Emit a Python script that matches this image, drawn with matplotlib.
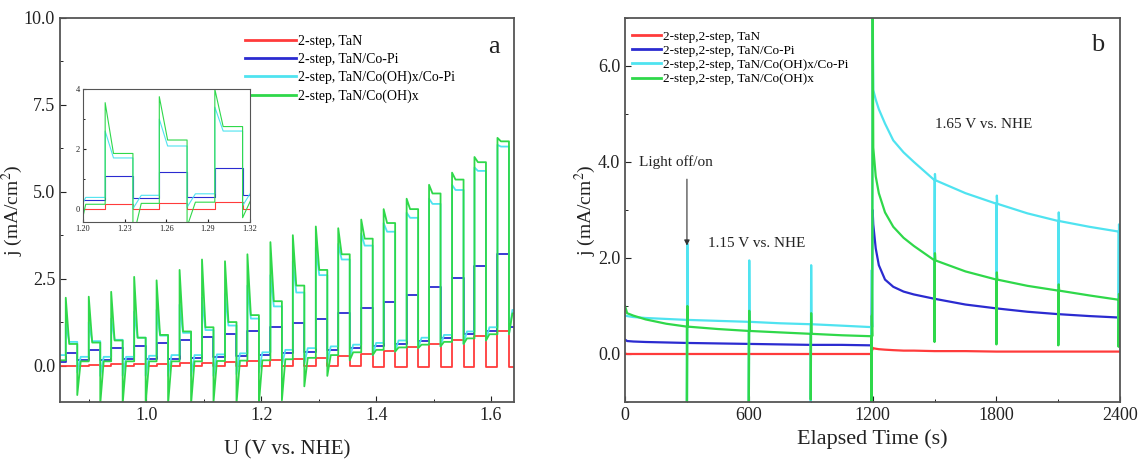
import matplotlib
matplotlib.use("Agg")
import matplotlib.pyplot as plt
from matplotlib.ticker import MultipleLocator, FormatStrFormatter

plt.rcParams['font.family'] = ['Liberation Serif', 'DejaVu Serif']
plt.rcParams['mathtext.fontset'] = 'stix'

# ---------------- panel a: chopped-light LSV (one value per light cycle) ----------------
u_start, u_end = 0.85, 1.64
chop_on = [0.860, 0.900, 0.939, 0.979, 1.018, 1.058, 1.097, 1.137, 1.176, 1.216,
           1.255, 1.295, 1.334, 1.374, 1.413, 1.453, 1.492, 1.532, 1.571, 1.611]
chop_off = [0.880, 0.920, 0.959, 0.999, 1.038, 1.078, 1.117, 1.157, 1.196, 1.236,
            1.275, 1.315, 1.354, 1.394, 1.433, 1.473, 1.512, 1.552, 1.591, 1.631]

# dark level before each cycle (+ tail after the last one)
red_dark = [0.0, 0.0, 0.0, 0.0, 0.0, 0.0, 0.0, 0.0, 0.0, 0.0, 0.0,
            0.0, -0.02, -0.02, -0.03, -0.03, -0.04, -0.04, -0.05, -0.05, -0.05]
red_light = [0.0, 0.02, 0.03, 0.04, 0.05, 0.06, 0.08, 0.1, 0.12, 0.15,
             0.18, 0.22, 0.27, 0.33, 0.42, 0.52, 0.62, 0.72, 0.85, 0.98]

blue_dark = [0.1, 0.15, 0.15, 0.18, 0.2, 0.2, 0.22, 0.25, 0.28, 0.3, 0.35,
             0.4, 0.45, 0.5, 0.55, 0.62, 0.7, 0.8, 0.9, 1.0, 1.12]
blue_light = [0.35, 0.45, 0.5, 0.57, 0.65, 0.72, 0.81, 0.9, 1.0, 1.1,
              1.22, 1.35, 1.5, 1.65, 1.82, 2.02, 2.25, 2.52, 2.85, 3.2]

cyan_dark = [0.3, 0.25, 0.25, 0.25, 0.28, 0.3, 0.3, 0.32, 0.35, 0.38, 0.45,
             0.5, 0.55, 0.6, 0.65, 0.72, 0.8, 0.88, 0.98, 1.1, 1.6]
cyan_peak = [1.2, 1.25, 1.35, 1.55, 1.6, 1.75, 1.95, 2.05, 2.3, 2.6,
             3.0, 3.4, 3.5, 3.8, 4.1, 4.4, 4.8, 5.2, 5.7, 6.35]
cyan_light = [0.68, 0.7, 0.74, 0.8, 0.86, 0.94, 1.02, 1.15, 1.35, 1.7,
              2.1, 2.6, 3.05, 3.45, 3.85, 4.25, 4.65, 5.05, 5.6, 6.3]
cyan_dip = [-0.2, -0.3, -0.3, -0.3, -0.3, -0.3, -0.3, -0.25, -0.2, 0.0,
            0.05, 0.1, 0.2, 0.3, 0.4, 0.5, 0.55, 0.62, 0.72, 0.9]

green_dark = [0.15, 0.12, 0.12, 0.12, 0.12, 0.12, 0.12, 0.13, 0.14, 0.15, 0.18,
              0.22, 0.3, 0.38, 0.45, 0.52, 0.6, 0.68, 0.78, 0.9, 1.5]
green_peak = [1.95, 1.98, 2.12, 2.55, 2.45, 2.75, 3.05, 3.0, 3.2, 3.55,
              3.75, 4.0, 3.95, 4.2, 4.5, 4.8, 5.2, 5.55, 6.0, 6.55]
green_light = [0.62, 0.66, 0.72, 0.8, 0.88, 0.98, 1.1, 1.25, 1.45, 1.85,
               2.3, 2.75, 3.2, 3.65, 4.1, 4.5, 4.95, 5.35, 5.85, 6.45]
green_dip = [-0.85, -1.1, -1.1, -1.1, -1.1, -1.1, -1.05, -1.1, -1.1, -1.0,
             -0.6, -0.3, 0.15, 0.3, 0.4, 0.5, 0.55, 0.62, 0.72, 0.9]

# ---------------- panel b: chronoamperometry ----------------
t_lo = [0, 10, 40, 100, 200, 300, 450, 600, 750, 900, 1050, 1194]
t_hi = [1200, 1203, 1215, 1230, 1260, 1300, 1350, 1400, 1500, 1650,
        1800, 1950, 2100, 2250, 2392, 2400]
chop_t = [300, 600, 900, 1194, 1500, 1800, 2100, 2392]

red_lo = [0.01, 0.0, 0.0, 0.0, 0.0, 0.0, 0.0, 0.0, 0.0, 0.0, 0.0, 0.0]
red_hi = [0.13, 0.12, 0.11, 0.1, 0.09, 0.08, 0.07, 0.07, 0.06, 0.06,
          0.05, 0.05, 0.05, 0.05, 0.05, 0.05]
blue_lo = [0.3, 0.27, 0.26, 0.25, 0.24, 0.23, 0.22, 0.21, 0.2, 0.19, 0.19, 0.18]
blue_hi = [3.0, 2.7, 2.2, 1.85, 1.55, 1.4, 1.3, 1.24, 1.15, 1.03,
           0.95, 0.88, 0.83, 0.79, 0.76, 0.76]
cyan_lo = [0.8, 0.79, 0.77, 0.75, 0.73, 0.71, 0.69, 0.67, 0.64, 0.62, 0.59, 0.56]
cyan_hi = [7.5, 5.5, 5.3, 5.1, 4.8, 4.45, 4.2, 4.0, 3.62, 3.35,
           3.13, 2.93, 2.77, 2.65, 2.55, 2.54]
green_lo = [1.0, 0.85, 0.8, 0.72, 0.63, 0.57, 0.52, 0.48, 0.45, 0.42, 0.39, 0.37]
green_hi = [7.5, 4.3, 3.7, 3.35, 2.95, 2.65, 2.42, 2.25, 1.95, 1.72,
            1.55, 1.42, 1.32, 1.22, 1.13, 1.12]

cyan_spk_lo = [-1.1, -1.1, -1.1, -1.1, 0.3, 0.3, 0.3, 0.3]
cyan_spk_hi = [2.3, 1.95, 1.85, 1.75, 3.75, 3.3, 2.95, 2.7]
green_spk_lo = [-1.1, -1.0, -0.95, -1.0, 0.25, 0.2, 0.18, 0.15]
green_spk_hi = [1.0, 0.9, 0.85, 0.8, 2.1, 1.7, 1.45, 1.25]

labels_a = ['2-step, TaN', '2-step, TaN/Co-Pi',
            '2-step, TaN/Co(OH)x/Co-Pi', '2-step, TaN/Co(OH)x']
labels_b = ['2-step,2-step, TaN', '2-step,2-step, TaN/Co-Pi',
            '2-step,2-step, TaN/Co(OH)x/Co-Pi', '2-step,2-step, TaN/Co(OH)x']
colors = ['#ff3b3b', '#2b2bd0', '#4fe3f0', '#2fd84a']


def chop_trace(dark, peak, light, dip, settle=0.006):
    xs, ys = [u_start], [dark[0]]
    for k in range(len(chop_on)):
        on, off = chop_on[k], chop_off[k]
        xs += [on, on, on + settle, off, off, off + settle]
        ys += [dark[k], peak[k], light[k], light[k], dip[k], dark[k + 1]]
    xs.append(u_end)
    ys.append(dark[-1])
    return xs, ys


def spiked(t, v, lo=None, hi=None):
    ts, vs = [], []
    for ti, vi in zip(t, v):
        ts.append(ti)
        vs.append(vi)
        if lo is not None and ti in chop_t:
            j = chop_t.index(ti)
            ts += [ti, ti + 2, ti + 4]
            vs += [lo[j], hi[j], vi]
    return ts, vs


traces_a = [
    chop_trace(red_dark, red_light, red_light, red_dark[1:]),
    chop_trace(blue_dark, blue_light, blue_light, blue_dark[1:]),
    chop_trace(cyan_dark, cyan_peak, cyan_light, cyan_dip),
    chop_trace(green_dark, green_peak, green_light, green_dip),
]

traces_b = [
    spiked(t_lo + t_hi, red_lo + red_hi),
    spiked(t_lo + t_hi, blue_lo + blue_hi),
    spiked(t_lo + t_hi, cyan_lo + cyan_hi, cyan_spk_lo, cyan_spk_hi),
    spiked(t_lo + t_hi, green_lo + green_hi, green_spk_lo, green_spk_hi),
]

fig = plt.figure(figsize=(11.41, 4.61), dpi=100)
ax1 = fig.add_axes([0.0526, 0.128, 0.398, 0.833])
ax2 = fig.add_axes([0.5478, 0.128, 0.434, 0.833])
ins = fig.add_axes([0.0727, 0.518, 0.146, 0.2885])

spine_col = '#555555'
text_col = '#222222'

for (xs, ys), c, lab in zip(traces_a, colors, labels_a):
    ax1.plot(xs, ys, color=c, lw=1.3, label=lab)
    ins.plot(xs, ys, color=c, lw=0.8)

for (xs, ys), c, lab in zip(traces_b, colors, labels_b):
    ax2.plot(xs, ys, color=c, lw=1.6, label=lab)

# panel a
ax1.set_xlim(u_start, u_end)
ax1.set_ylim(-1.05, 10.0)
ax1.xaxis.set_major_locator(MultipleLocator(0.2))
ax1.xaxis.set_minor_locator(MultipleLocator(0.1))
ax1.yaxis.set_major_locator(MultipleLocator(2.5))
ax1.yaxis.set_minor_locator(MultipleLocator(1.25))
ax1.xaxis.set_major_formatter(FormatStrFormatter('%.1f'))
ax1.yaxis.set_major_formatter(FormatStrFormatter('%.1f'))
ax1.set_xlabel('U (V vs. NHE)', fontsize=15, color=text_col, labelpad=12)
ax1.set_ylabel('j (mA/cm$^2$)', fontsize=14, color=text_col, labelpad=-1)
ax1.text(0.955, 0.925, 'a', transform=ax1.transAxes, fontsize=19,
         ha='center', va='center', color=text_col)
leg1 = ax1.legend(loc='upper left', bbox_to_anchor=(0.395, 0.97), frameon=False,
                  fontsize=10, handlelength=3.7, handletextpad=0.15,
                  labelspacing=0.35, borderaxespad=0)
for h in leg1.get_lines():
    h.set_linewidth(2)

# inset
ins.set_xlim(1.20, 1.32)
ins.set_ylim(-0.45, 4.0)
ins.set_xticks([1.20, 1.23, 1.26, 1.29, 1.32])
ins.set_yticks([0, 2, 4])
ins.yaxis.set_minor_locator(MultipleLocator(1))
ins.xaxis.set_major_formatter(FormatStrFormatter('%.2f'))
ins.tick_params(labelsize=6, direction='in', length=2, pad=2, colors=text_col)
ins.tick_params(which='minor', direction='in', length=1.5)
for s in ins.spines.values():
    s.set_color(spine_col)
    s.set_linewidth(0.8)

# panel b
ax2.set_xlim(0, 2400)
ax2.set_ylim(-1.0, 7.0)
ax2.xaxis.set_major_locator(MultipleLocator(600))
ax2.xaxis.set_minor_locator(MultipleLocator(300))
ax2.yaxis.set_major_locator(MultipleLocator(2))
ax2.yaxis.set_minor_locator(MultipleLocator(1))
ax2.yaxis.set_major_formatter(FormatStrFormatter('%.1f'))
ax2.set_xlabel('Elapsed Time (s)', fontsize=16, color=text_col, labelpad=4)
ax2.set_ylabel('j (mA/cm$^2$)', fontsize=14, color=text_col, labelpad=0)
ax2.text(0.955, 0.93, 'b', transform=ax2.transAxes, fontsize=19,
         ha='center', va='center', color=text_col)
ax2.text(70, 4.0, 'Light off/on', fontsize=11, color=text_col, va='center')
ax2.annotate('', xy=(300, 2.2), xytext=(300, 3.7),
             arrowprops=dict(arrowstyle='-|>', color='#333333', lw=0.8,
                             mutation_scale=8))
ax2.text(400, 2.3, '1.15 V vs. NHE', fontsize=11, color=text_col, va='center')
ax2.text(1500, 4.78, '1.65 V vs. NHE', fontsize=11, color=text_col, va='center')
leg2 = ax2.legend(loc='upper left', bbox_to_anchor=(0.0, 0.985), frameon=False,
                  fontsize=9.5, handlelength=2.2, handletextpad=0.2,
                  labelspacing=0.15, borderaxespad=0.1)
for h in leg2.get_lines():
    h.set_linewidth(2)

for ax in (ax1, ax2):
    ax.tick_params(which='major', direction='in', length=4, labelsize=13,
                   colors=text_col)
    ax.tick_params(which='minor', direction='in', length=2.5)
    for s in ax.spines.values():
        s.set_color(spine_col)
        s.set_linewidth(1.3)

fig.savefig('out.png', dpi=100)
